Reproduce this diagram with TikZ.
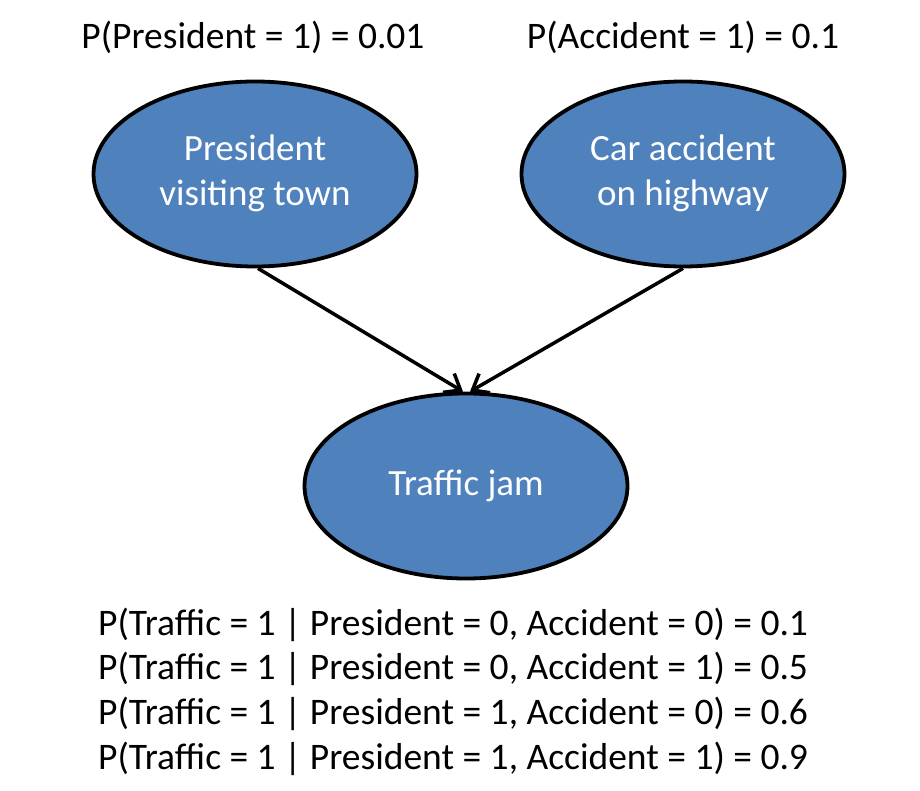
\documentclass[tikz,border=0pt]{standalone}
\usepackage{fontspec}
\setmainfont{Carlito}
\usetikzlibrary{shapes.geometric,arrows.meta}
\definecolor{nodeblue}{HTML}{4F81BD}
\newcommand{\lowtext}[1]{\raisebox{-3pt}{\begin{tabular}{@{}c@{}}#1\end{tabular}}}
\begin{document}
\begin{tikzpicture}[x=1pt,y=-1pt,
  bnode/.style={ellipse,draw=black,line width=3.8pt,fill=nodeblue,text=white,
    minimum width=323pt,minimum height=185pt,inner sep=0pt,align=center,
    font=\fontsize{37}{45}\selectfont},
  plabel/.style={font=\fontsize{37.5}{45}\selectfont,text=black,inner sep=0pt},
  edge/.style={line width=3.5pt,-{Straight Barb[length=14pt,width=22pt,line width=3.5pt]}}]
\fill[white] (0,0) rectangle (920,791);
\useasboundingbox (0,0) rectangle (920,791);
\node[bnode] (pres) at (255,174) {\lowtext{President\\visiting town}};
\node[bnode] (acc) at (683,174) {\lowtext{Car accident\\on highway}};
\node[bnode] (traf) at (466,486) {\lowtext{Traffic jam}};
\node[plabel] (pp) at (253,37) {P(President = 1) = 0.01};
\node[plabel] (pa) at (683,37) {P(Accident = 1) = 0.1};
\node[plabel,anchor=west] (c1) at (98,625) {P(Traffic = 1 | President = 0, Accident = 0) = 0.1};
\node[plabel,anchor=west] (c2) at (98,669) {P(Traffic = 1 | President = 0, Accident = 1) = 0.5};
\node[plabel,anchor=west] (c3) at (98,714) {P(Traffic = 1 | President = 1, Accident = 0) = 0.6};
\node[plabel,anchor=west] (c4) at (98,759) {P(Traffic = 1 | President = 1, Accident = 1) = 0.9};
\draw[edge] ([xshift=3pt]pres.south) -- ([xshift=-3pt]traf.north);
\draw[edge] (acc.south) -- ([xshift=4pt]traf.north);
\end{tikzpicture}
\end{document}
